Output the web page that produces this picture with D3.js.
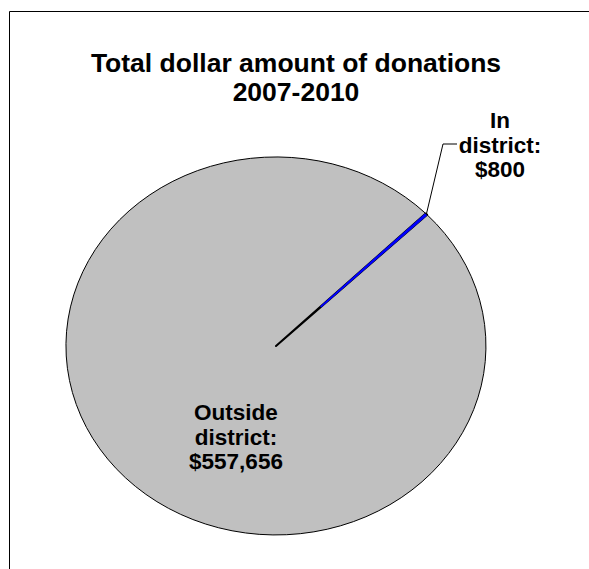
<!DOCTYPE html>
<html>
<head>
<meta charset="utf-8">
<script src="https://cdn.jsdelivr.net/npm/d3@7"></script>
<style>
  body { margin: 0; background: #fff; }
  text { font-family: Arial, "Liberation Sans", sans-serif; font-weight: bold; fill: #000; }
</style>
</head>
<body>
<div class="content"></div>
<script>
// data
const categories = ['Outside district', 'In district'];
const amounts = [557656, 800];
const labelLines = [['Outside', 'district:', '$557,656'], ['In', 'district:', '$800']];
const sliceColors = ['#c0c0c0', '#0000ff'];
const titleLines = ['Total dollar amount of donations', '2007-2010'];

const [svgWidth, svgHeight] = [589, 569];
const svg = d3.select('.content')
  .append('svg')
  .attr('width', svgWidth)
  .attr('height', svgHeight);

// chart frame (only top and left edges visible)
svg.append('path')
  .attr('d', `M9.5,${svgHeight} L9.5,11.5 L${svgWidth},11.5`)
  .attr('fill', 'none')
  .attr('stroke', '#000')
  .attr('stroke-width', 1);

svg.selectAll('text.title')
  .data(titleLines)
  .enter()
  .append('text')
  .classed('title', true)
  .attr('x', 296)
  .attr('y', (d, i) => 72 + 29 * i)
  .attr('text-anchor', 'middle')
  .attr('font-size', 26.5)
  .text(d => d);

// pie is stretched into an ellipse
const [cx, cy, rx, ry] = [276, 346, 210, 189];
const rot = 46 * Math.PI / 180;
const pie = d3.pie()
  .sort(null)
  .startAngle(rot)
  .endAngle(rot + 2 * Math.PI);
const arcs = pie(amounts);
const arc = d3.arc().innerRadius(0).outerRadius(ry);

const pieG = svg.append('g')
  .attr('transform', `translate(${cx},${cy}) scale(${rx / ry},1)`);
pieG.append('path')
  .datum(arcs[0])
  .attr('d', arc)
  .attr('fill', sliceColors[0])
  .attr('stroke', '#000')
  .attr('stroke-width', 1)
  .attr('vector-effect', 'non-scaling-stroke');
// tiny slice: black edge under a blue core so it stays visible
pieG.append('path')
  .datum(arcs[1])
  .attr('d', arc)
  .attr('fill', '#000')
  .attr('stroke', '#000')
  .attr('stroke-width', 2)
  .attr('stroke-linejoin', 'round')
  .attr('vector-effect', 'non-scaling-stroke');
pieG.append('path')
  .datum(arcs[1])
  .attr('d', d3.arc().innerRadius(ry * 0.3).outerRadius(ry - 1))
  .attr('fill', sliceColors[1])
  .attr('stroke', sliceColors[1])
  .attr('stroke-width', 1.2)
  .attr('vector-effect', 'non-scaling-stroke');

// labels
const labelPos = [[236, 420], [500, 128]];
labelLines.forEach((lines, k) => {
  svg.selectAll(`text.lab${k}`)
    .data(lines)
    .enter()
    .append('text')
    .attr('class', `lab${k}`)
    .attr('x', labelPos[k][0])
    .attr('y', (d, i) => labelPos[k][1] + 24.5 * i)
    .attr('text-anchor', 'middle')
    .attr('font-size', 22.5)
    .text(d => d);
});

// leader line for small slice
const small = arcs[1];
const mid = (small.startAngle + small.endAngle) / 2;
const ex = cx + rx * Math.sin(mid);
const ey = cy - ry * Math.cos(mid);
svg.append('path')
  .attr('d', `M${ex},${ey} L443,144 L457,144`)
  .attr('fill', 'none')
  .attr('stroke', '#000')
  .attr('stroke-width', 1);
</script>
</body>
</html>
